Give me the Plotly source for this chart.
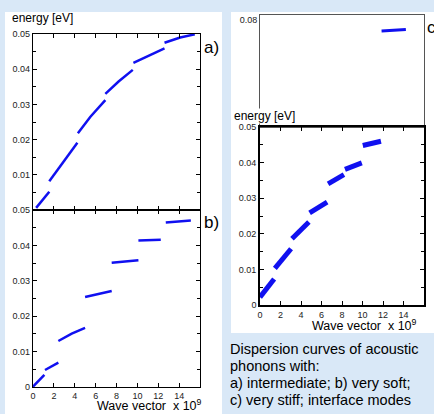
import plotly.graph_objects as go

W, H = 434, 414

# ---------------- data ----------------
# panel a) intermediate
a_seg_x = [[0.3, 0.9, 1.56], [1.56, 2.9, 4.25], [4.3, 5.5, 6.93],
           [6.93, 8.2, 9.56], [9.62, 11.2, 12.6], [12.6, 14.1, 15.5]]
a_seg_y = [[0.0006, 0.0029, 0.0052], [0.0082, 0.0137, 0.0191], [0.0218, 0.0265, 0.0312],
           [0.033, 0.0365, 0.0398], [0.0418, 0.044, 0.0459], [0.0475, 0.049, 0.0499]]
# panel b) very soft
b_seg_x = [[0.0, 1.09], [1.15, 2.43], [2.43, 3.71, 4.99], [4.99, 6.2, 7.54],
           [7.54, 8.8, 10.1], [10.1, 12.24], [12.72, 15.12]]
b_seg_y = [[0.0001, 0.0034], [0.0048, 0.0069], [0.013, 0.0151, 0.0167], [0.0254, 0.0262, 0.0271],
           [0.0351, 0.0355, 0.0358], [0.0414, 0.0416], [0.0465, 0.047]]
# panel c) very stiff (lower part) and interface mode (upper part)
c_seg_x = [[0.0, 1.38], [1.45, 3.03], [3.12, 4.77], [4.84, 6.55],
           [6.64, 8.19], [8.29, 9.93], [10.03, 11.8]]
c_seg_y = [[0.0022, 0.0073], [0.0103, 0.0158], [0.0186, 0.0233], [0.0259, 0.0289],
           [0.034, 0.0366], [0.0381, 0.0399], [0.0448, 0.046]]
c_top_x = [11.86, 14.23]
c_top_y = [0.077, 0.0774]

x_ticks = [0, 2, 4, 6, 8, 10, 12, 14]
y_ticks = [0, 0.01, 0.02, 0.03, 0.04, 0.05]
y_ticktext = ["0", "0.01", "0.02", "0.03", "0.04", "0.05"]

caption_lines = ["Dispersion curves of acoustic", "phonons with:",
                 "a) intermediate; b) very soft;", "c) very stiff; interface modes"]

FONT = "Liberation Sans, Arial, sans-serif"
BLUE = "#1010f0"


def join(segs_x, segs_y):
    xs, ys = [], []
    for sx, sy in zip(segs_x, segs_y):
        xs += sx + [None]
        ys += sy + [None]
    return xs, ys


def px_x(p):
    return p / W


def px_y(p):
    return 1 - p / H


fig = go.Figure()
ax, ay = join(a_seg_x, a_seg_y)
bx, by = join(b_seg_x, b_seg_y)
cx, cy = join(c_seg_x, c_seg_y)
fig.add_trace(go.Scatter(x=ax, y=ay, mode="lines", line=dict(color=BLUE, width=2.5),
                         xaxis="x", yaxis="y", connectgaps=False))
fig.add_trace(go.Scatter(x=bx, y=by, mode="lines", line=dict(color=BLUE, width=2.5),
                         xaxis="x2", yaxis="y2", connectgaps=False))
fig.add_trace(go.Scatter(x=c_top_x, y=c_top_y, mode="lines", line=dict(color=BLUE, width=3),
                         xaxis="x3", yaxis="y3"))
fig.add_trace(go.Scatter(x=cx, y=cy, mode="lines", line=dict(color=BLUE, width=5),
                         xaxis="x4", yaxis="y4", connectgaps=False))

tickfont = dict(family=FONT, size=9, color="#222")
common_x = dict(range=[0, 16], showgrid=False, zeroline=False, showline=True, linecolor="black",
                linewidth=1.2, ticks="inside", ticklen=4, tickcolor="black", tickvals=x_ticks,
                tickfont=tickfont, mirror="ticks", automargin=False)
common_y = dict(showgrid=False, zeroline=False, showline=True, linecolor="black", linewidth=1.2,
                ticks="inside", ticklen=4, tickcolor="black", tickfont=tickfont, mirror="ticks",
                automargin=False,
                minor=dict(ticks="inside", ticklen=3, dtick=0.005, tick0=0, tickcolor="black"))

fig.update_layout(
    template="none",
    width=W, height=H, margin=dict(l=0, r=0, t=0, b=0, pad=0),
    paper_bgcolor="#d9e8f7", plot_bgcolor="white", showlegend=False,
    font=dict(family=FONT, color="black"),
    xaxis=dict(common_x, domain=[px_x(33), px_x(200)], anchor="y", showticklabels=False),
    yaxis=dict(common_y, domain=[px_y(210), px_y(34)], anchor="x", range=[0, 0.05],
               tickvals=y_ticks[1:], ticktext=y_ticktext[1:]),
    xaxis2=dict(common_x, domain=[px_x(33), px_x(200)], anchor="y2"),
    yaxis2=dict(common_y, domain=[px_y(387), px_y(210)], anchor="x2", range=[0, 0.05],
                tickvals=y_ticks, ticktext=y_ticktext),
    xaxis3=dict(range=[0, 16], domain=[px_x(260), px_x(424)], anchor="y3", showgrid=False,
                zeroline=False, showline=True, linecolor="#555", mirror=True,
                showticklabels=False, ticks="", automargin=False),
    yaxis3=dict(range=[0.05, 0.0815], domain=[px_y(127), px_y(15)], anchor="x3",
                showgrid=False, zeroline=False, showline=True, linecolor="#555", mirror=True,
                tickvals=[0.08], ticktext=["0.08"], ticks="", tickfont=tickfont,
                automargin=False),
    xaxis4=dict(common_x, domain=[px_x(260), px_x(424)], anchor="y4", linewidth=1.6),
    yaxis4=dict(common_y, domain=[px_y(305), px_y(127)], anchor="x4", range=[0, 0.05],
                tickvals=y_ticks, ticktext=y_ticktext, linewidth=1.6),
)

# white panels behind the charts
fig.add_shape(type="rect", xref="paper", yref="paper", x0=px_x(5), x1=px_x(222),
              y0=px_y(414), y1=px_y(12), fillcolor="white", line=dict(width=0), layer="below")
fig.add_shape(type="rect", xref="paper", yref="paper", x0=px_x(231), x1=px_x(434),
              y0=px_y(333), y1=px_y(12), fillcolor="white", line=dict(width=0), layer="below")

ann = []
ann.append(dict(text="energy [eV]", x=px_x(10), y=px_y(18), xanchor="left", yanchor="middle",
                font=dict(size=12)))
ann.append(dict(text="a)", x=px_x(202), y=px_y(48), xanchor="left", yanchor="middle",
                font=dict(size=17)))
ann.append(dict(text="b)", x=px_x(202), y=px_y(223), xanchor="left", yanchor="middle",
                font=dict(size=17)))
ann.append(dict(text="c)", x=px_x(425), y=px_y(28), xanchor="left", yanchor="middle",
                font=dict(size=17)))
ann.append(dict(text="energy [eV]", x=px_x(233), y=px_y(116), xanchor="left", yanchor="middle",
                font=dict(size=12), bgcolor="white", borderpad=0))
ann.append(dict(text="Wave vector  x 10<sup>9</sup>", x=px_x(204), y=px_y(404.5),
                xanchor="right", yanchor="middle", font=dict(size=12.5)))
ann.append(dict(text="Wave vector  x 10<sup>9</sup>", x=px_x(419), y=px_y(325),
                xanchor="right", yanchor="middle", font=dict(size=12.5)))
for i, line in enumerate(caption_lines):
    ann.append(dict(text=line, x=px_x(228), y=px_y(349 + i * 17), xanchor="left",
                    yanchor="middle", font=dict(size=14.5)))
for a in ann:
    a.update(xref="paper", yref="paper", showarrow=False)
fig.update_layout(annotations=ann)

fig.write_html("out.html", config={"displayModeBar": False},
               post_script="document.body.style.margin='0';document.body.style.overflow='hidden';")
